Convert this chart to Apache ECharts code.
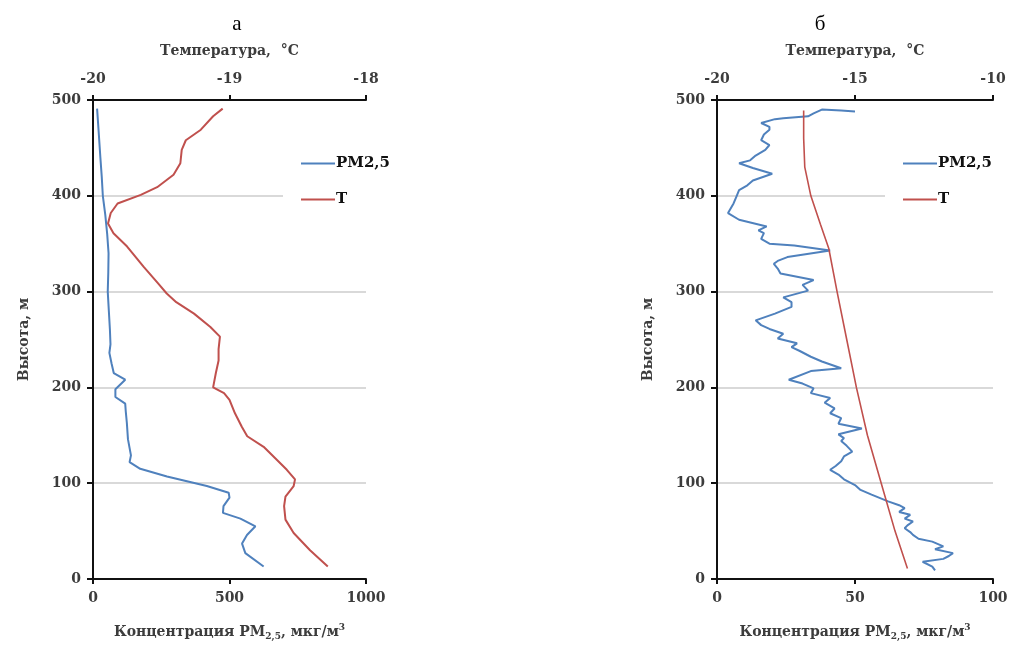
<!DOCTYPE html>
<html>
<head>
<meta charset="utf-8">
<script src="https://cdn.jsdelivr.net/npm/echarts@6/dist/echarts.min.js"></script>
<style>
  html, body { margin: 0; padding: 0; background: #fff; }
  #chart { width: 1012px; height: 646px; }
</style>
</head>
<body>
<div id="chart"></div>
<script>
  // панель а: высота, м / концентрация PM2,5 / температура
  var heightPmA = [491, 470, 440, 420, 400, 380, 360, 340, 320, 300, 280, 260, 245, 236, 225, 215, 208, 198, 190, 183, 175, 163, 146, 129, 122, 115, 107, 102, 97, 90, 85, 76, 69, 63, 55, 46, 37, 27, 13]
  var pmA = [15, 20, 27, 32, 36, 45, 52, 57, 56, 54, 58, 62, 64, 60, 68, 76, 118, 82, 82, 118, 120, 124, 128, 139, 134, 173, 271, 344, 417, 497, 500, 478, 476, 540, 595, 564, 546, 558, 625]
  var heightTA = [491, 483, 469, 458, 448, 434, 422, 409, 401, 392, 382, 371, 361, 347, 326, 308, 298, 289, 277, 263, 253, 240, 228, 215, 200, 194, 187, 173, 159, 149, 138, 124, 114, 104, 97, 86, 76, 62, 48, 30, 13]
  var tempA = [-19.05, -19.12, -19.21, -19.32, -19.35, -19.36, -19.41, -19.53, -19.65, -19.82, -19.87, -19.89, -19.85, -19.75, -19.63, -19.52, -19.46, -19.39, -19.26, -19.14, -19.07, -19.08, -19.08, -19.10, -19.12, -19.04, -19.0, -18.96, -18.91, -18.87, -18.75, -18.65, -18.58, -18.52, -18.53, -18.59, -18.60, -18.59, -18.53, -18.41, -18.28]

  // панель б
  var heightPmB = [488, 489, 490, 486, 483, 481, 480, 476, 472, 469, 464, 458, 453, 448, 442, 437, 434, 429, 423, 416, 411, 406, 399, 392, 382, 375, 368, 364, 361, 355, 350, 348, 343, 336, 332, 329, 324, 319, 312, 307, 301, 294, 289, 284, 277, 270, 265, 261, 256, 251, 246, 242, 238, 232, 227, 220, 217, 208, 204, 199, 194, 189, 184, 178, 173, 168, 162, 157, 151, 147, 144, 139, 133, 128, 123, 118, 114, 109, 104, 98, 93, 88, 81, 77, 74, 70, 67, 63, 60, 56, 53, 49, 46, 42, 39, 34, 31, 27, 24, 21, 18, 13, 9]
  var pmB = [50, 45, 38, 35, 33, 24, 21, 16, 19, 19, 17, 16, 19, 17.5, 14, 12, 8, 13, 20, 13, 11, 8, 7, 6, 4, 8, 18, 15, 17, 16, 19, 28, 41, 25.5, 22, 20.6, 22, 23, 35, 31, 33, 24, 27, 27, 21, 14, 16, 19, 24, 22, 29, 27, 30, 34, 38, 45, 34, 26, 31, 35, 34, 41, 39, 42.6, 41, 45, 44, 52.5, 44, 46, 45, 47, 49, 46, 45, 43, 41, 44, 46, 50, 52, 56, 62, 66, 68, 66, 70, 68, 71, 69, 68, 70, 71, 73, 78, 82, 79, 85.5, 84, 82, 74.5, 78, 79]
  var heightTB = [489, 460, 430, 400, 370, 345, 300, 250, 200, 150, 100, 50, 11]
  var tempB = [-16.86, -16.86, -16.82, -16.6, -16.25, -15.95, -15.65, -15.3, -14.95, -14.55, -14.05, -13.55, -13.1]

  function pairs(xs, ys) {
    return xs.map(function (x, i) { return [x, ys[i]] })
  }

  var fontFam = 'DejaVu Serif'
  var labelStyle = {fontFamily: fontFam, fontWeight: 'bold', fontSize: 14, color: '#3c3c3c'}
  var axisLine = {show: true, onZero: false, lineStyle: {color: '#111', width: 2}}
  var axisTick = {show: true, inside: false, length: 5, lineStyle: {color: '#111', width: 2}}
  var plain = function (v) { return String(v) }

  function bottomAxis(grid, max, interval) {
    return {
      type: 'value', gridIndex: grid, position: 'bottom', min: 0, max: max, interval: interval,
      axisLine: axisLine, axisTick: axisTick, splitLine: {show: false},
      axisLabel: Object.assign({margin: 12, formatter: plain}, labelStyle),
      name: '{n|Концентрация PM}{s|2,5}{n|, мкг/м}{p|3}',
      nameLocation: 'middle', nameGap: 44,
      nameTextStyle: {
        rich: {
          n: labelStyle,
          s: {fontFamily: fontFam, fontWeight: 'bold', fontSize: 9, color: '#3c3c3c', padding: [9, 0, 0, 0]},
          p: {fontFamily: fontFam, fontWeight: 'bold', fontSize: 9, color: '#3c3c3c', padding: [0, 0, 8, 0]}
        }
      }
    }
  }

  function topAxis(grid, min, max, interval) {
    return {
      type: 'value', gridIndex: grid, position: 'top', min: min, max: max, interval: interval,
      axisLine: axisLine, axisTick: axisTick, splitLine: {show: false},
      axisLabel: Object.assign({margin: 14, formatter: plain}, labelStyle),
      name: 'Температура,  °C', nameLocation: 'middle', nameGap: 42,
      nameTextStyle: labelStyle
    }
  }

  function heightAxis(grid) {
    return {
      type: 'value', gridIndex: grid, min: 0, max: 500, interval: 100,
      axisLine: axisLine, axisTick: Object.assign({}, axisTick, {length: 6}),
      axisLabel: Object.assign({margin: 12}, labelStyle),
      splitLine: {show: true, lineStyle: {color: '#d9d9d9', width: 2}},
      name: 'Высота, м', nameLocation: 'middle', nameGap: 62,
      nameTextStyle: labelStyle
    }
  }

  function legend(left) {
    return {
      left: left, top: 148, orient: 'vertical', backgroundColor: '#fff',
      padding: [8, 4, 8, 18], itemWidth: 34, itemHeight: 2, itemGap: 21,
      icon: 'rect', data: ['PM2,5', 'T'],
      textStyle: {fontFamily: fontFam, fontWeight: 'bold', fontSize: 15, color: '#111', padding: [0, 0, 0, -4]}
    }
  }

  var blue = '#4f81bd'
  var red = '#c0504d'

  var chart = echarts.init(document.getElementById('chart'))
  chart.setOption({
    animation: false,
    backgroundColor: '#fff',
    title: [
      {text: 'а', left: 232, top: 9, textAlign: 'center', textStyle: {fontFamily: 'Liberation Serif', fontWeight: 'normal', fontSize: 21, color: '#000'}},
      {text: 'б', left: 815, top: 9, textAlign: 'center', textStyle: {fontFamily: 'Liberation Serif', fontWeight: 'normal', fontSize: 21, color: '#000'}}
    ],
    legend: [legend(283), legend(885)],
    grid: [
      {left: 93, top: 100, width: 273, height: 479},
      {left: 717, top: 100, width: 276, height: 479}
    ],
    xAxis: [
      bottomAxis(0, 1000, 500),
      topAxis(0, -20, -18, 1),
      bottomAxis(1, 100, 50),
      topAxis(1, -20, -10, 5)
    ],
    yAxis: [heightAxis(0), heightAxis(1)],
    series: [
      {name: 'PM2,5', type: 'line', xAxisIndex: 0, yAxisIndex: 0, symbol: 'none', color: blue,
        lineStyle: {width: 2, color: blue}, data: pairs(pmA, heightPmA)},
      {name: 'T', type: 'line', xAxisIndex: 1, yAxisIndex: 0, symbol: 'none', color: red,
        lineStyle: {width: 2, color: red}, data: pairs(tempA, heightTA)},
      {name: 'PM2,5', type: 'line', xAxisIndex: 2, yAxisIndex: 1, symbol: 'none', color: blue,
        lineStyle: {width: 2, color: blue}, data: pairs(pmB, heightPmB)},
      {name: 'T', type: 'line', xAxisIndex: 3, yAxisIndex: 1, symbol: 'none', color: red,
        lineStyle: {width: 1.6, color: red}, data: pairs(tempB, heightTB)}
    ]
  })
</script>
</body>
</html>
